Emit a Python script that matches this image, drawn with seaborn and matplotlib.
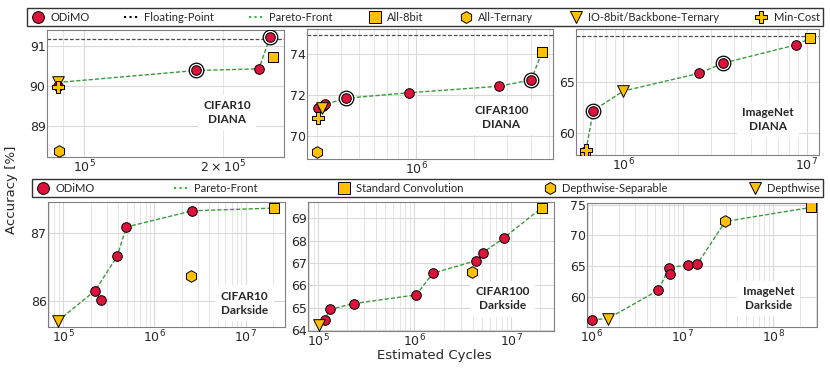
import matplotlib
matplotlib.use("Agg")
import matplotlib.pyplot as plt
import seaborn as sns
import numpy as np
import pandas as pd
from matplotlib.lines import Line2D

# ---- data ----
# CIFAR10 / DIANA
c10d_odimo_x = [8.77e4, 1.75e5, 2.39e5, 2.53e5]
c10d_odimo_y = [89.98, 90.38, 90.42, 91.22]
c10d_ring = [1, 3]
c10d_par_x = [8.75e4, 1.75e5, 2.39e5, 2.53e5]
c10d_par_y = [90.08, 90.38, 90.42, 91.22]
c10d_8bit = [2.57e5, 90.72]
c10d_tern = [8.8e4, 88.38]
c10d_io = [8.75e4, 90.08]
c10d_min = [8.77e4, 89.96]
c10d_fp = 91.17

# CIFAR100 / DIANA
c100d_odimo_x = [3.03e5, 3.22e5, 3.32e5, 4.25e5, 9.1e5, 2.71e6, 4.02e6]
c100d_odimo_y = [71.34, 71.48, 71.54, 71.84, 72.11, 72.43, 72.74]
c100d_ring = [3, 6]
c100d_par_x = [3.19e5, 3.32e5, 4.25e5, 9.1e5, 2.71e6, 4.02e6, 4.58e6]
c100d_par_y = [71.35, 71.54, 71.84, 72.11, 72.43, 72.74, 74.1]
c100d_8bit = [4.58e6, 74.1]
c100d_tern = [3.0e5, 69.18]
c100d_io = [3.19e5, 71.35]
c100d_min = [3.03e5, 70.85]
c100d_fp = 74.95

# ImageNet / DIANA
imd_odimo_x = [6.86e5, 2.6e6, 3.48e6, 8.75e6]
imd_odimo_y = [62.16, 65.82, 66.8, 68.6]
imd_ring = [0, 2]
imd_par_x = [6.26e5, 6.86e5, 1.0e6, 2.6e6, 3.48e6, 8.75e6, 1.05e7]
imd_par_y = [58.27, 62.16, 64.08, 65.82, 66.8, 68.6, 69.25]
imd_8bit = [1.05e7, 69.25]
imd_tern = [6.2e5, 58.15]
imd_io = [1.0e6, 64.08]
imd_min = [6.26e5, 58.27]
imd_fp = 69.5

# CIFAR10 / Darkside
c10k_odimo_x = [2.24e5, 2.57e5, 3.91e5, 4.91e5, 2.61e6]
c10k_odimo_y = [86.15, 86.01, 86.66, 87.09, 87.33]
c10k_par_x = [8.74e4, 2.24e5, 3.91e5, 4.91e5, 2.61e6, 2.05e7]
c10k_par_y = [85.70, 86.15, 86.66, 87.09, 87.33, 87.37]
c10k_std = [2.05e7, 87.37]
c10k_sep = [2.54e6, 86.37]
c10k_dw = [8.74e4, 85.70]

# CIFAR100 / Darkside
c100k_odimo_x = [1.17e5, 1.34e5, 2.34e5, 1.04e6, 1.55e6, 4.36e6, 5.12e6, 8.4e6]
c100k_odimo_y = [64.45, 64.92, 65.18, 65.57, 66.54, 67.11, 67.47, 68.12]
c100k_par_x = [1.02e5, 1.17e5, 1.34e5, 2.34e5, 1.04e6, 1.55e6, 4.36e6, 5.12e6, 8.4e6, 2.08e7]
c100k_par_y = [64.22, 64.45, 64.92, 65.18, 65.57, 66.54, 67.11, 67.47, 68.12, 69.48]
c100k_std = [2.08e7, 69.48]
c100k_sep = [3.94e6, 66.6]
c100k_dw = [1.02e5, 64.22]

# ImageNet / Darkside
imk_odimo_x = [1.0e6, 5.42e6, 7.1e6, 7.28e6, 1.15e7, 1.45e7]
imk_odimo_y = [56.36, 61.14, 64.78, 63.8, 65.22, 65.33]
imk_par_x = [1.0e6, 1.49e6, 5.42e6, 7.1e6, 1.15e7, 1.45e7, 2.97e7, 2.64e8]
imk_par_y = [56.36, 56.5, 61.14, 64.78, 65.22, 65.33, 72.28, 74.57]
imk_std = [2.64e8, 74.57]
imk_sep = [2.97e7, 72.28]
imk_dw = [1.49e6, 56.5]

RED = "crimson"
GOLD = "#FFC000"
GREEN = "#3c9a3c"

sns.set_style("whitegrid")
plt.rcParams["font.family"] = ["DejaVu Sans"]
plt.rcParams["axes.edgecolor"] = "0.5"

fig = plt.figure(figsize=(8.3, 3.75), dpi=100)

def add_panel(rect, xlim, ylim, yticks, title):
    ax = fig.add_axes(rect)
    ax.set_xscale("log")
    ax.set_xlim(*xlim)
    ax.set_ylim(*ylim)
    ax.set_yticks(yticks)
    ax.grid(True, which="major", color="0.85", lw=0.8)
    ax.grid(True, which="minor", axis="x", color="0.88", lw=0.6)
    ax.tick_params(which="both", labelsize=9, pad=1, length=0)
    ax.text(title[1], title[2], title[0], transform=ax.transAxes, ha="center", va="center",
            fontsize=8.5, fontweight="bold", family="Lato", linespacing=1.3,
            bbox=dict(facecolor="white", edgecolor="none", pad=4))
    return ax

def pareto(ax, xs, ys):
    df = pd.DataFrame({"x": xs, "y": ys})
    sns.lineplot(data=df, x="x", y="y", ax=ax, sort=False, estimator=None, color=GREEN,
                 lw=1.0, dashes=False, zorder=2)
    ax.lines[-1].set_linestyle((0, (3, 1.5)))

def red_points(ax, xs, ys, ring=()):
    if ring:
        sns.scatterplot(x=[xs[i] for i in ring], y=[ys[i] for i in ring], ax=ax, s=110,
                        color="white", edgecolor="black", linewidth=0.9, zorder=3)
    sns.scatterplot(x=xs, y=ys, ax=ax, s=48, color=RED, edgecolor="black", linewidth=0.7, zorder=4)

def gold(ax, pt, marker, s=55, z=5):
    sns.scatterplot(x=[pt[0]], y=[pt[1]], ax=ax, marker=marker, s=s, color=GOLD,
                    edgecolor="black", linewidth=0.7, zorder=z)

def fp_line(ax, y):
    ax.axhline(y, color="0.3", lw=0.9, ls=(0, (3, 1.5)), zorder=1)

def finish(ax):
    ax.set_xlabel("")
    ax.set_ylabel("")

# top row
ax1 = add_panel([47/830, 1-157/375, 237/830, 127/375], (8.3e4, 2.71e5), (88.22, 91.39), [89, 90, 91],
                ("CIFAR10\nDIANA", 0.76, 0.35))
fp_line(ax1, c10d_fp)
pareto(ax1, c10d_par_x, c10d_par_y)
red_points(ax1, c10d_odimo_x, c10d_odimo_y, c10d_ring)
gold(ax1, c10d_tern, "h", 70)
gold(ax1, c10d_8bit, "s")
gold(ax1, c10d_io, "v", 70)
gold(ax1, c10d_min, "P", 65, 6)

ax2 = add_panel([307/830, 1-159/375, 246/830, 130/375], (2.66e5, 5.24e6), (68.85, 75.25), [70, 72, 74],
                ("CIFAR100\nDIANA", 0.79, 0.32))
fp_line(ax2, c100d_fp)
pareto(ax2, c100d_par_x, c100d_par_y)
red_points(ax2, c100d_odimo_x, c100d_odimo_y, c100d_ring)
gold(ax2, c100d_tern, "h", 70)
gold(ax2, c100d_8bit, "s")
gold(ax2, c100d_io, "v", 70)
gold(ax2, c100d_min, "P", 65, 6)

ax3 = add_panel([576/830, 1-155/375, 243/830, 126/375], (5.52e5, 1.17e7), (57.81, 70.16), [60, 65],
                ("ImageNet\nDIANA", 0.79, 0.28))
fp_line(ax3, imd_fp)
pareto(ax3, imd_par_x, imd_par_y)
red_points(ax3, imd_odimo_x, imd_odimo_y, imd_ring)
gold(ax3, imd_tern, "h", 70)
gold(ax3, imd_8bit, "s")
gold(ax3, imd_io, "v", 70)
gold(ax3, imd_min, "P", 65, 6)

# bottom row
ax4 = add_panel([48/830, 1-327/375, 237/830, 125/375], (6.8e4, 2.7e7), (85.61, 87.46), [86, 87],
                ("CIFAR10\nDarkside", 0.83, 0.19))
pareto(ax4, c10k_par_x, c10k_par_y)
red_points(ax4, c10k_odimo_x, c10k_odimo_y)
gold(ax4, c10k_sep, "h", 70)
gold(ax4, c10k_std, "s")
gold(ax4, c10k_dw, "v", 70)

ax5 = add_panel([308/830, 1-331/375, 246/830, 129/375], (7.88e4, 2.79e7), (63.95, 69.74), [64, 65, 66, 67, 68, 69],
                ("CIFAR100\nDarkside", 0.79, 0.25))
pareto(ax5, c100k_par_x, c100k_par_y)
red_points(ax5, c100k_odimo_x, c100k_odimo_y)
gold(ax5, c100k_sep, "h", 70)
gold(ax5, c100k_std, "s")
gold(ax5, c100k_dw, "v", 70)

ax6 = add_panel([587/830, 1-327/375, 230/830, 124/375], (8.81e5, 3.05e8), (55.16, 75.27), [60, 65, 70, 75],
                ("ImageNet\nDarkside", 0.79, 0.23))
pareto(ax6, imk_par_x, imk_par_y)
red_points(ax6, imk_odimo_x, imk_odimo_y)
gold(ax6, imk_sep, "h", 70)
gold(ax6, imk_std, "s")
gold(ax6, imk_dw, "v", 70)

for ax in [ax1, ax2, ax3, ax4, ax5, ax6]:
    finish(ax)

# legends
def mk(marker, color):
    return Line2D([], [], marker=marker, color=color, mec="black", mew=0.7, ms=8.5, ls="none")

top_handles = [mk("o", RED), Line2D([], [], color="black", ls=":", lw=1.5),
               Line2D([], [], color="#33bb33", ls=":", lw=1.5), mk("s", GOLD), mk("h", GOLD),
               mk("v", GOLD), mk("P", GOLD)]
top_labels = ["ODiMO", "Floating-Point", "Pareto-Front", "All-8bit", "All-Ternary",
              "IO-8bit/Backbone-Ternary", "Min-Cost"]
leg1 = fig.legend(top_handles, top_labels, loc="lower left", ncol=7, mode="expand",
                  bbox_to_anchor=(27/830, 1-26/375, 796/830, 17/375), borderaxespad=0,
                  prop={"family": "Lato", "size": 8}, handlelength=1.4, handletextpad=0.4,
                  frameon=True, fancybox=False, edgecolor="black", borderpad=0.3)
leg1.get_frame().set_linewidth(1.0)

bot_handles = [mk("o", RED), Line2D([], [], color="#33bb33", ls=":", lw=1.5),
               mk("s", GOLD), mk("h", GOLD), mk("v", GOLD)]
bot_labels = ["ODiMO", "Pareto-Front", "Standard Convolution", "Depthwise-Separable", "Depthwise"]
leg2 = fig.legend(bot_handles, bot_labels, loc="lower left", ncol=5, mode="expand",
                  bbox_to_anchor=(32/830, 1-197/375, 791/830, 19/375), borderaxespad=0,
                  prop={"family": "Lato", "size": 8}, handlelength=1.4, handletextpad=0.4,
                  frameon=True, fancybox=False, edgecolor="black", borderpad=0.3)
leg2.get_frame().set_linewidth(1.0)

fig.text(12/830, 1-190/375, "Accuracy [%]", rotation=90, ha="center", va="center", fontsize=9.5)
fig.text(434/830, 1-356/375, "Estimated Cycles", ha="center", va="center", fontsize=9.5)

fig.savefig("out.png", dpi=100)
